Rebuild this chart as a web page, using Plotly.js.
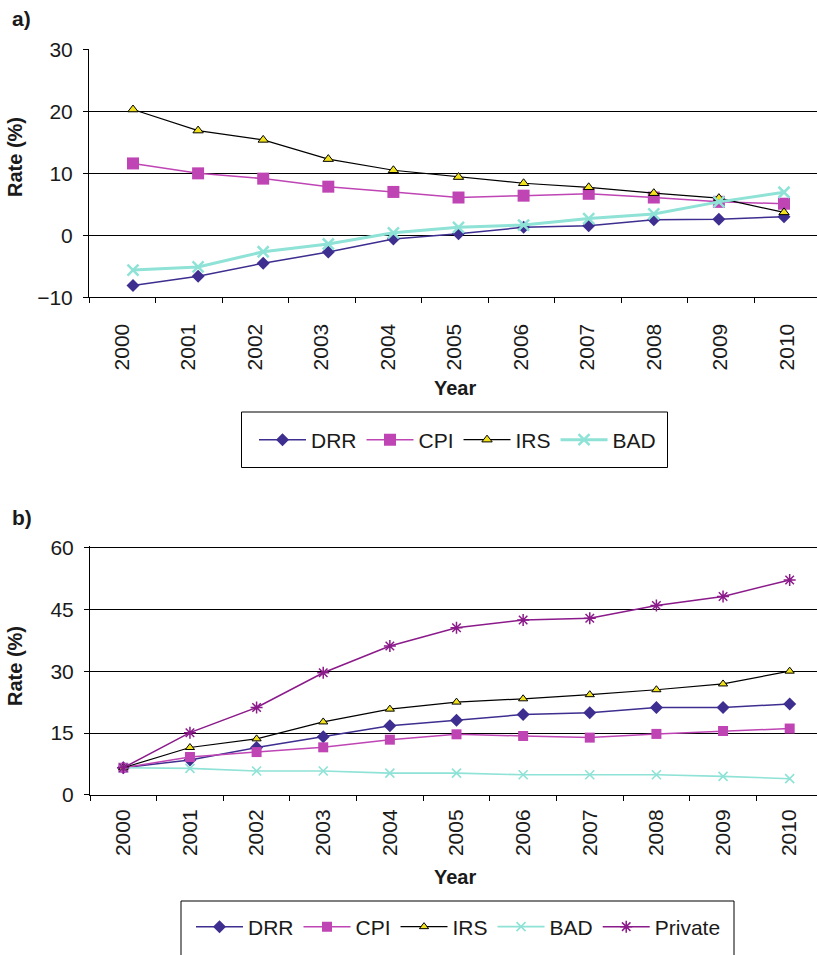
<!DOCTYPE html>
<html>
<head>
<meta charset="utf-8">
<script src="https://cdn.plot.ly/plotly-3.0.1.min.js"></script>
<style>
  html, body { margin: 0; padding: 0; overflow: hidden; background: #fff; width: 817px; height: 955px; }
  #chart { width: 832px; height: 975px; }
</style>
</head>
<body>
<div id="chart"></div>
<script>
// Years on the category axis
const years = ['2000', '2001', '2002', '2003', '2004', '2005', '2006', '2007', '2008', '2009', '2010'];

// Panel a) rates (%)
const drrA = [-8.1, -6.6, -4.5, -2.7, -0.6, 0.25, 1.3, 1.55, 2.5, 2.6, 3.0];
const cpiA = [11.6, 10.0, 9.15, 7.85, 7.0, 6.1, 6.4, 6.7, 6.1, 5.4, 5.1];
const irsA = [20.3, 16.9, 15.4, 12.3, 10.5, 9.4, 8.4, 7.75, 6.8, 6.0, 3.7];
const badA = [-5.6, -5.1, -2.65, -1.4, 0.4, 1.3, 1.65, 2.7, 3.45, 5.4, 6.95];

// Panel b) rates (%)
const drrB = [6.6, 8.5, 11.5, 14.1, 16.8, 18.1, 19.5, 19.9, 21.2, 21.2, 22.05];
const cpiB = [6.6, 9.2, 10.4, 11.55, 13.4, 14.7, 14.3, 13.9, 14.8, 15.5, 16.1];
const irsB = [6.6, 11.5, 13.6, 17.7, 20.8, 22.5, 23.3, 24.3, 25.5, 26.9, 30.0];
const badB = [6.6, 6.45, 5.8, 5.8, 5.3, 5.3, 4.9, 4.9, 4.9, 4.5, 3.95];
const privateB = [6.6, 15.1, 21.2, 29.6, 36.1, 40.5, 42.4, 42.8, 45.9, 48.1, 52.1];

const seriesNames = ['DRR', 'CPI', 'IRS', 'BAD', 'Private'];
const yTicksA = [-10, 0, 10, 20, 30];
const yTicksB = [0, 15, 30, 45, 60];
const panelLabels = ['a)', 'b)'];
const yTitle = 'Rate (%)';
const xTitle = 'Year';

// Figure geometry (px) converted to paper fractions
const W = 832, H = 975;
const fx = px => px / W;
const fy = py => 1 - py / H;

const FONT = 'Liberation Sans, Arial, Helvetica, sans-serif';
const TXT = '#1a1a1a';

const COL = {
  DRR: '#3D2E8F',
  CPI: '#BF45B5',
  IRS: '#000000',
  IRSfill: '#F2E21B',
  BAD: '#8EE2D6',
  Private: '#8B1A8A'
};

function styles(panel) {
  const big = panel === 'a';
  return {
    DRR: { line: { color: COL.DRR, width: 1.5 },
           marker: { symbol: 'diamond', size: big ? 10 : 10, color: COL.DRR } },
    CPI: { line: { color: COL.CPI, width: 1.5 },
           marker: { symbol: 'square', size: big ? 12 : 10, color: COL.CPI } },
    IRS: { line: { color: COL.IRS, width: 1.2 },
           marker: { symbol: 'triangle-up', size: big ? 9 : 8, color: COL.IRSfill, line: { color: '#000', width: 1 } } },
    BAD: { line: { color: COL.BAD, width: big ? 3 : 1.6 },
           marker: { symbol: 'x-thin-open', size: big ? 11 : 9, color: COL.BAD, line: { color: COL.BAD, width: big ? 2.5 : 1.6 } } },
    Private: { line: { color: COL.Private, width: 1.5 },
           marker: { symbol: 'asterisk-open', size: 10, color: COL.Private, line: { color: COL.Private, width: 1.5 } } }
  };
}

const stA = styles('a');
const stB = styles('b');
const valuesA = [drrA, cpiA, irsA, badA];
const valuesB = [drrB, cpiB, irsB, badB, privateB];

const traces = [];
// empty trace that registers the year-label axis of panel a as a subplot
traces.push({ type: 'scatter', mode: 'markers', x: [], y: [], xaxis: 'x', yaxis: 'y',
              showlegend: false, hoverinfo: 'skip' });
valuesA.forEach((vals, i) => {
  const name = seriesNames[i];
  traces.push(Object.assign({
    type: 'scatter', mode: 'lines+markers', name: name,
    x: years, y: vals, xaxis: 'x3', yaxis: 'y', legend: 'legend',
    cliponaxis: false, hoverinfo: 'x+y+name'
  }, stA[name]));
});
valuesB.forEach((vals, i) => {
  const name = seriesNames[i];
  traces.push(Object.assign({
    type: 'scatter', mode: 'lines+markers', name: name,
    x: years, y: vals, xaxis: 'x2', yaxis: 'y2', legend: 'legend2',
    cliponaxis: false, hoverinfo: 'x+y+name'
  }, stB[name]));
});

const tickFont = { family: FONT, size: 21, color: TXT };
const titleFont = { family: FONT, size: 20, color: TXT, weight: 700 };

const yCommon = {
  tickmode: 'array', ticks: 'outside', ticklen: 5, tickcolor: '#000', tickwidth: 1,
  showline: true, linecolor: '#000', linewidth: 1,
  showgrid: true, gridcolor: '#000', gridwidth: 1,
  zeroline: true, zerolinecolor: '#000', zerolinewidth: 1,
  tickfont: tickFont, ticklabelstandoff: 6, fixedrange: true
};

const legendCommon = {
  orientation: 'h', xanchor: 'left', yanchor: 'middle',
  font: { family: FONT, size: 21, color: TXT },
  bgcolor: 'rgba(0,0,0,0)', borderwidth: 0, itemwidth: 47, traceorder: 'normal'
};

// panel b: a little headroom above 60 keeps its top gridline
const yB0 = yTicksB[0], yB1 = yTicksB[yTicksB.length - 1];
const yB1ext = yB1 + 0.4;
const pxPerB = (795 - 547.3) / (yB1 - yB0);

const xDomA = [fx(89), fx(820.5)];

const layout = {
  width: W, height: H,
  margin: { l: 0, r: 0, t: 0, b: 0, pad: 0 },
  paper_bgcolor: '#fff', plot_bgcolor: '#fff',
  font: { family: FONT, color: TXT },
  showlegend: true,
  // panel a: year labels centred between boundary ticks
  xaxis: {
    type: 'linear', domain: xDomA, anchor: 'y',
    range: [-0.5, years.length - 0.5],
    tickmode: 'array', tickvals: years.map((_, i) => i - 0.5), ticktext: years,
    ticklabelshift: 33, tickangle: -90,
    ticks: 'outside', ticklen: 5, tickcolor: '#000', tickwidth: 1,
    showline: true, linecolor: '#000', linewidth: 1,
    showgrid: false, zeroline: false,
    tickfont: tickFont, ticklabelstandoff: 12, fixedrange: true
  },
  // panel a: data axis for the series
  xaxis3: {
    type: 'category', overlaying: 'x', anchor: 'y', domain: xDomA,
    range: [-0.6759, 10.5607], visible: false, fixedrange: true
  },
  yaxis: Object.assign({}, yCommon, {
    domain: [fy(297.3), fy(49.4)], anchor: 'x',
    range: [yTicksA[0], yTicksA[yTicksA.length - 1]], tickvals: yTicksA
  }),
  // panel b
  xaxis2: {
    type: 'category', domain: [fx(90), fx(823)], anchor: 'y2',
    range: [-0.5, years.length - 0.5], dtick: 1,
    tickson: 'boundaries', tickangle: -90,
    ticks: 'outside', ticklen: 5, tickcolor: '#000', tickwidth: 1,
    showline: true, linecolor: '#000', linewidth: 1,
    showgrid: false, zeroline: false,
    tickfont: tickFont, ticklabelstandoff: 5, fixedrange: true
  },
  yaxis2: Object.assign({}, yCommon, {
    domain: [fy(795), fy(547.3 - (yB1ext - yB1) * pxPerB)], anchor: 'x2',
    range: [yB0, yB1ext], tickvals: yTicksB
  }),
  legend: Object.assign({}, legendCommon, { x: fx(254), y: fy(440) }),
  legend2: Object.assign({}, legendCommon, { x: fx(191), y: fy(927) }),
  shapes: [
    { type: 'rect', xref: 'paper', yref: 'paper',
      x0: fx(241.5), x1: fx(667.5), y0: fy(467.5), y1: fy(412),
      line: { color: '#000', width: 1 }, fillcolor: 'rgba(0,0,0,0)', layer: 'below' },
    { type: 'rect', xref: 'paper', yref: 'paper',
      x0: fx(181), x1: fx(734), y0: fy(968), y1: fy(901),
      line: { color: '#000', width: 1 }, fillcolor: 'rgba(0,0,0,0)', layer: 'below' }
  ],
  annotations: [
    { text: panelLabels[0], x: fx(10), y: fy(19), xanchor: 'left', yanchor: 'middle',
      xref: 'paper', yref: 'paper', showarrow: false, font: { family: FONT, size: 21, color: TXT, weight: 700 } },
    { text: panelLabels[1], x: fx(10), y: fy(517), xanchor: 'left', yanchor: 'middle',
      xref: 'paper', yref: 'paper', showarrow: false, font: { family: FONT, size: 21, color: TXT, weight: 700 } },
    { text: yTitle, x: fx(15), y: fy(157), textangle: -90, xanchor: 'center', yanchor: 'middle',
      xref: 'paper', yref: 'paper', showarrow: false, font: titleFont },
    { text: yTitle, x: fx(15), y: fy(666), textangle: -90, xanchor: 'center', yanchor: 'middle',
      xref: 'paper', yref: 'paper', showarrow: false, font: titleFont },
    { text: xTitle, x: fx(455), y: fy(388), xanchor: 'center', yanchor: 'middle',
      xref: 'paper', yref: 'paper', showarrow: false, font: titleFont },
    { text: xTitle, x: fx(455), y: fy(877), xanchor: 'center', yanchor: 'middle',
      xref: 'paper', yref: 'paper', showarrow: false, font: titleFont }
  ]
};

Plotly.newPlot('chart', traces, layout, { displayModeBar: false, staticPlot: true });
</script>
</body>
</html>
